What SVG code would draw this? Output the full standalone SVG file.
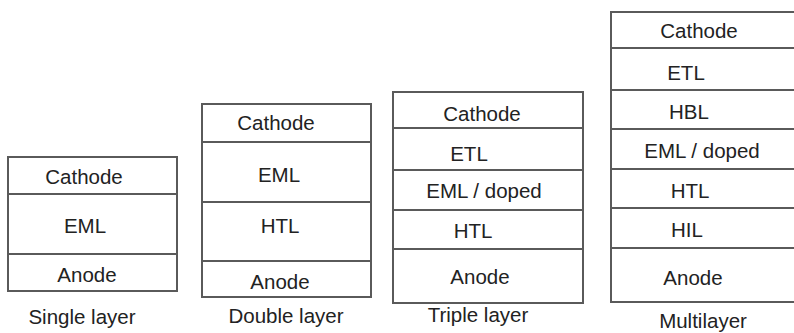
<svg xmlns="http://www.w3.org/2000/svg" width="794" height="333" viewBox="0 0 794 333">
<style>
.box{fill:#fff;stroke:#5a5a5a;stroke-width:2}
.sep{stroke:#5a5a5a;stroke-width:2}
text{font-family:"Liberation Sans",Arial,sans-serif;font-size:20.5px;fill:#222;text-anchor:middle}
</style>
<rect width="794" height="333" fill="#fff"/>
<g id="single">
<rect class="box" x="8" y="157" width="169" height="134"/>
<line class="sep" x1="8" y1="194" x2="177" y2="194"/>
<line class="sep" x1="8" y1="254" x2="177" y2="254"/>
<text x="84" y="184">Cathode</text>
<text x="85" y="233">EML</text>
<text x="87" y="282">Anode</text>
<text x="82" y="324">Single layer</text>
</g>
<g id="double">
<rect class="box" x="202" y="104" width="169" height="193"/>
<line class="sep" x1="202" y1="142" x2="371" y2="142"/>
<line class="sep" x1="202" y1="202" x2="371" y2="202"/>
<line class="sep" x1="202" y1="261" x2="372" y2="261"/>
<text x="276" y="130">Cathode</text>
<text x="279" y="182">EML</text>
<text x="280" y="233">HTL</text>
<text x="280" y="289">Anode</text>
<text x="286" y="323">Double layer</text>
</g>
<g id="triple">
<rect class="box" x="393" y="92" width="190" height="211"/>
<line class="sep" x1="393" y1="128" x2="583" y2="128"/>
<line class="sep" x1="393" y1="170" x2="583" y2="170"/>
<line class="sep" x1="393" y1="210" x2="583" y2="210"/>
<line class="sep" x1="393" y1="249" x2="583" y2="249"/>
<text x="482" y="121">Cathode</text>
<text x="469" y="161">ETL</text>
<text x="484" y="198">EML / doped</text>
<text x="473" y="238">HTL</text>
<text x="480" y="284">Anode</text>
<text x="478" y="322">Triple layer</text>
</g>
<g id="multi">
<rect class="box" x="611" y="12" width="190" height="290"/>
<line class="sep" x1="611" y1="48" x2="801" y2="48"/>
<line class="sep" x1="611" y1="90" x2="801" y2="90"/>
<line class="sep" x1="611" y1="129" x2="801" y2="129"/>
<line class="sep" x1="611" y1="169" x2="801" y2="169"/>
<line class="sep" x1="611" y1="208" x2="801" y2="208"/>
<line class="sep" x1="611" y1="248" x2="801" y2="248"/>
<text x="699" y="38">Cathode</text>
<text x="686" y="80">ETL</text>
<text x="689" y="119">HBL</text>
<text x="702" y="158">EML / doped</text>
<text x="690" y="198">HTL</text>
<text x="687" y="237">HIL</text>
<text x="693" y="285">Anode</text>
<text x="703" y="328">Multilayer</text>
</g>
<g id="connectors"></g>
</svg>
